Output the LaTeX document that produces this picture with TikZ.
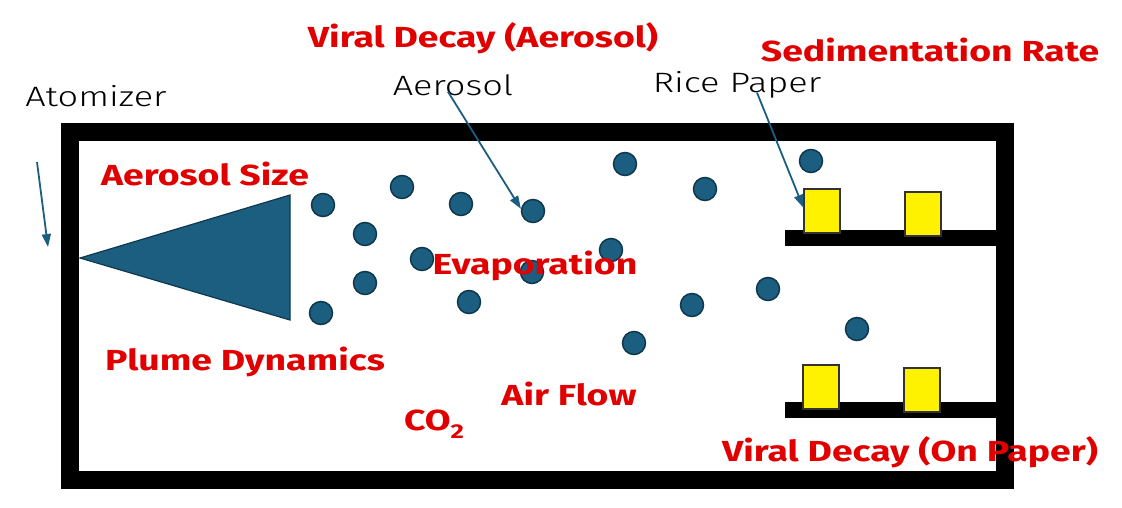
\documentclass[tikz,border=0pt]{standalone}
\usepackage{fontspec}
\setmainfont[FakeStretch=1.29]{Fira Sans}
\newfontfamily\calloutfont[FakeStretch=1.29]{Fira Sans Light}
\usetikzlibrary{positioning,arrows.meta,calc}
\definecolor{droplet}{HTML}{1B5E80}
\definecolor{labelred}{HTML}{E00000}
\tikzset{>={Triangle[length=13pt,width=9pt]}}
\tikzset{
  drop/.style={circle, draw=droplet!60!black, fill=droplet, line width=1.5pt, minimum size=23pt, inner sep=0pt},
  paper/.style={draw=black!80, fill=yellow, line width=1.2pt, minimum width=36pt, minimum height=44pt, inner sep=0pt},
  factor/.style={text=labelred, inner sep=0pt, font=\bfseries\fontsize{29}{29}\selectfont},
  callout/.style={inner sep=0pt, font=\calloutfont\fontsize{28}{28}\selectfont},
  pointer/.style={->, draw=droplet, line width=1.8pt},
  wall/.style={line width=18pt}
}

\begin{document}
\begin{tikzpicture}[x=1pt, y=-1pt]
  \useasboundingbox (0,0) rectangle (1122,507);
  % chamber and shelves
  \draw[wall] (70,132) rectangle (1005,480);
  \draw[line width=16pt] (785,238) -- (1005,238);
  \draw[line width=16pt] (785,410) -- (1005,410);

  % atomizer nozzle
  \filldraw[fill=droplet, draw=droplet!60!black, line width=1.2pt] (80,258) -- (290,195) -- (290,320) -- cycle;

  % rice paper samples
  \node[paper] (top1) at (822,211) {};
  \node[paper] (top2) at (923,214) {};
  \node[paper] (bot1) at (821,387) {};
  \node[paper] (bot2) at (922,390) {};

  % aerosol droplets
  \foreach \i/\x/\y in {1/323/205, 2/365/234, 3/402/187, 4/461/204, 5/533/211,
                        6/422/259, 7/365/283, 8/469/302, 9/532/272, 10/321/313,
                        11/625/164, 12/705/189, 13/611/250, 14/692/305, 15/768/289,
                        16/634/343, 17/811/161, 18/857/329}
    \node[drop] (d\i) at (\x,\y) {};

  % labels
  \node[callout] (atomizer) at (96,96) {Atomizer};
  \node[callout] (aerosollbl) at (453,85) {Aerosol};
  \node[callout] (ricelbl) at (737,85) {Rice Paper};

  \node[factor] (decayair) at (483,38) {Viral Decay (Aerosol)};
  \node[factor] (sediment) at (930,50) {Sedimentation Rate};
  \node[factor] (size) at (205,174) {Aerosol Size};
  \node[factor] (evap) at (535,266) {Evaporation};
  \node[factor] (plume) at (245,362) {Plume Dynamics};
  \node[factor] (airflow) at (569,394) {Air Flow};
  \node[factor] (co2) at (434,424) {CO\raisebox{-8pt}{\fontsize{20}{20}\selectfont 2}};
  \node[factor] (decaypaper) at (910,452) {Viral Decay (On Paper)};

  % pointers
  \coordinate (atomtail) at (37,162);
  \coordinate (atomhead) at (48,247);
  \draw[pointer] (atomtail) -- (atomhead);
  \draw[pointer] ([xshift=-5pt,yshift=4pt]aerosollbl.south) -- (d5.170);
  \draw[pointer] ([xshift=20pt,yshift=6pt]ricelbl.south) -- (top1.170);
\end{tikzpicture}
\end{document}
